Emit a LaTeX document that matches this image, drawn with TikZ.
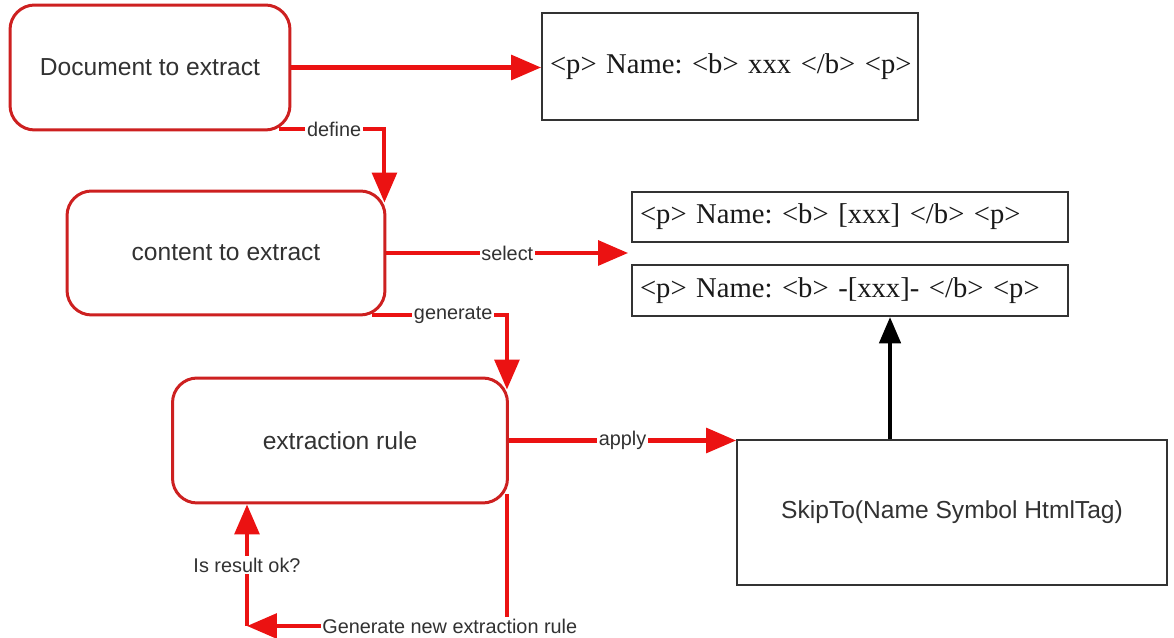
\documentclass[tikz,border=0pt]{standalone}
\usepackage{fontspec}
\setmainfont{Liberation Serif}
\setsansfont{Liberation Sans}
\usepackage{tikz}
\usetikzlibrary{arrows.meta, positioning, calc}
\definecolor{boxred}{RGB}{205,32,32}
\definecolor{flowred}{RGB}{235,18,18}
\definecolor{txtgray}{RGB}{50,50,50}
\frenchspacing

\begin{document}
\begin{tikzpicture}[x=0.02cm, y=-0.02cm,
  roundbox/.style={draw=boxred, line width=1.7pt, rounded corners=14pt, fill=white,
    font=\sffamily\fontsize{14}{16}\selectfont, text=txtgray, minimum width=#1, minimum height=2.5cm},
  codebox/.style={draw=black!80, line width=1.1pt, fill=white, inner xsep=0.16cm,
    font=\fontsize{16.3}{19}\selectfont, text=black!90, text width=#1, align=left},
  flow/.style={draw=flowred, line width=2.3pt, -{Triangle[length=17pt, width=14pt]}},
  lbl/.style={fill=white, inner sep=1pt, font=\sffamily\fontsize{11.3}{13}\selectfont, text=txtgray}]
  \useasboundingbox (0,0) rectangle (1174,638);

  % boxes on the left
  \node[roundbox=5.6cm] (doc) at (150,67.5) {Document to extract};
  \node[roundbox=6.36cm, minimum height=2.48cm] (content) at (226,253) {content to extract};
  \node[roundbox=6.7cm] (rule) at (340,440.5) {extraction rule};

  % html samples
  \node[codebox=7.2cm, minimum height=2.14cm] (sample) at (730,66.5) {\mbox{<p> Name: <b> xxx </b> <p>}};
  \node[codebox=8.4cm, minimum height=1.0cm] (marked) at (850,217) {\mbox{<p> Name: <b> [xxx] </b> <p>}};
  \node[codebox=8.4cm, minimum height=1.02cm] (delim) at (850,290.5) {\mbox{<p> Name: <b> -[xxx]- </b> <p>}};
  \node[draw=black!80, line width=1.1pt, minimum width=8.6cm, minimum height=2.9cm,
    font=\sffamily\fontsize{14}{16}\selectfont, text=txtgray] (skip) at (952,512.5) {SkipTo(Name Symbol HtmlTag)};

  \coordinate (gap) at ($(marked.south west)!0.5!(delim.north west)+(-3,0)$);
  \coordinate (back) at (247,626);

  % connectors
  \draw[flow] (doc.east) -- (doc.east -| sample.west);
  \draw[flow] ($(doc.south east)+(-12,-2)$) -| node[lbl, pos=0.26]{define} ($(content.north east)+(-2,13)$);
  \draw[flow] (content.east) -- node[lbl]{select} (content.east -| gap);
  \draw[flow] ($(content.south east)+(-14,-1)$) -| node[lbl, pos=0.3]{generate} ($(rule.north east)+(-2,13)$);
  \draw[flow] (rule.east) -- node[lbl]{apply} (rule.east -| skip.west);
  \draw[line width=2.5pt, -{Triangle[length=15pt, width=12pt]}] ([xshift=-1.24cm]skip.north) -- ([xshift=-1.24cm]skip.north |- delim.south);
  \draw[flow] ($(rule.south east)+(-2,-10)$) |- node[lbl, pos=0.61]{Generate new extraction rule} (back);
  \draw[flow] (back) -- node[lbl]{Is result ok?} (rule.south -| back);
\end{tikzpicture}
\end{document}
